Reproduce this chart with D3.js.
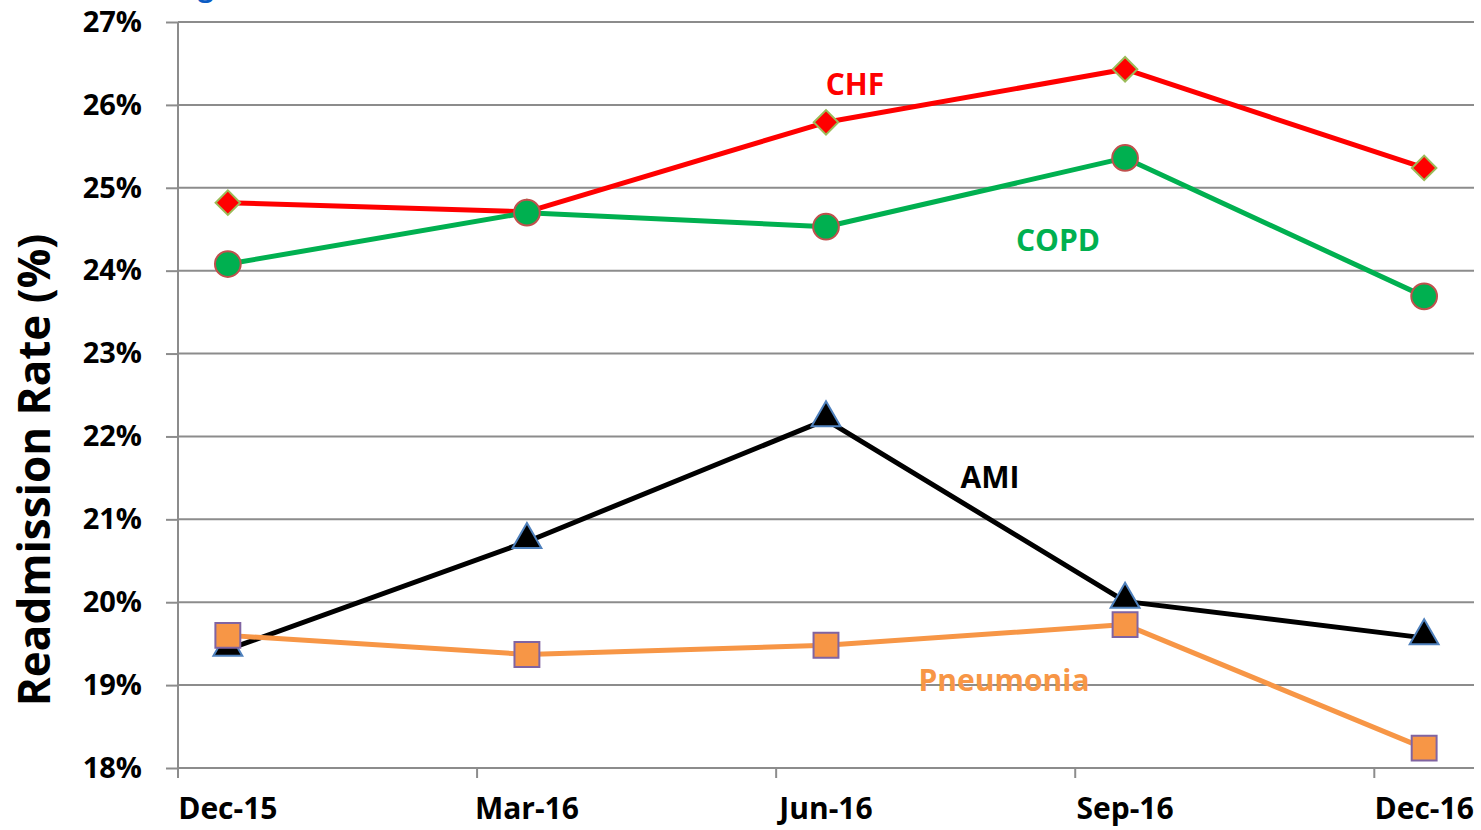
<!DOCTYPE html>
<html>
<head>
<meta charset="utf-8">
<script src="https://cdn.jsdelivr.net/npm/d3@7"></script>
<style>
    body { margin: 0; background: #fff; }
    svg { display: block; font-family: "Open Sans", Lato, sans-serif; font-weight: bold; }
</style>
</head>
<body>
<svg id="chart" width="1481" height="830"></svg>
<script>
// Quarters shown on the date axis (month index from Dec-15)
const months = [0, 3, 6, 9, 12];
const monthLabels = ['Dec-15', 'Mar-16', 'Jun-16', 'Sep-16', 'Dec-16'];

// Readmission rates (%)
const chf = [24.82, 24.71, 25.79, 26.43, 25.24];
const copd = [24.08, 24.70, 24.53, 25.36, 23.69];
const ami = [19.43, 20.73, 22.20, 20.01, 19.57];
const pneumonia = [19.60, 19.37, 19.48, 19.73, 18.24];

const yTicks = [18, 19, 20, 21, 22, 23, 24, 25, 26, 27];

/**
 * Visual configs.
 */
const margin = { top: 22, right: 7, bottom: 62, left: 178 },
    visWidth = 1481, visHeight = 830,
    width = visWidth - margin.left - margin.right,
    height = visHeight - margin.top - margin.bottom,
    gridColor = '#8c8c8c';

const series = [
    { name: 'CHF', values: chf, color: '#ff0000', marker: 'diamond', fill: '#ff0000', stroke: '#9bbb59', label: [855, 84] },
    { name: 'COPD', values: copd, color: '#00b050', marker: 'circle', fill: '#00b050', stroke: '#c0504d', label: [1058, 240] },
    { name: 'AMI', values: ami, color: '#000000', marker: 'triangle', fill: '#000000', stroke: '#4f81bd', label: [990, 477] },
    { name: 'Pneumonia', values: pneumonia, color: '#f79646', marker: 'square', fill: '#f79646', stroke: '#8064a2', label: [1004, 680] }
];

const svg = d3.select('#chart');
const g = svg.append('g').attr('transform', 'translate(' + margin.left + ',' + margin.top + ')');

// Month slots: each month is one slot, points sit in the middle of the slot
const x = d3.scaleLinear().domain([-0.5, 12.5]).range([0, width]);
const y = d3.scaleLinear().domain([18, 27]).range([height, 0]);

// Cut-off blue title at the very top
svg.append('text')
    .attr('x', 198).attr('y', -4)
    .attr('fill', '#0b5cc4')
    .style('font-size', '28px')
    .text('g');

// Y ticks
const yAxis = d3.axisLeft(y).tickValues(yTicks).tickSize(12).tickPadding(24)
    .tickFormat(d => d + '%');
g.append('g').attr('class', 'y-axis').call(yAxis)
    .call(s => s.select('.domain').remove())
    .call(s => s.selectAll('.tick line').attr('stroke', gridColor).attr('stroke-width', 2))
    .call(s => s.selectAll('.tick text').attr('fill', '#000').style('font-size', '29px')
        .style('font-family', '"Open Sans", sans-serif').style('font-weight', 'bold'));

// Horizontal gridlines
g.append('g').attr('class', 'grid')
    .selectAll('line').data(yTicks).join('line')
    .attr('x1', 0).attr('x2', width)
    .attr('y1', d => y(d)).attr('y2', d => y(d))
    .attr('stroke', gridColor).attr('stroke-width', 2);

// Vertical axis line
g.append('line')
    .attr('x1', 0).attr('x2', 0).attr('y1', 0).attr('y2', height + 10)
    .attr('stroke', gridColor).attr('stroke-width', 2);

// X axis: tick marks at start of each quarter, labels under the data points
const xg = g.append('g').attr('transform', 'translate(0,' + height + ')');
xg.selectAll('line').data(months).join('line')
    .attr('x1', d => x(d - 0.5)).attr('x2', d => x(d - 0.5))
    .attr('y1', 0).attr('y2', 10)
    .attr('stroke', gridColor).attr('stroke-width', 2);
xg.selectAll('text').data(months).join('text')
    .attr('x', d => x(d)).attr('y', 51)
    .attr('text-anchor', 'middle')
    .style('font-size', '30px')
    .text((d, i) => monthLabels[i]);

// Y axis title
svg.append('text')
    .attr('transform', 'translate(50,' + 470 + ') rotate(-90)')
    .attr('text-anchor', 'middle')
    .style('font-size', '44px')
    .text('Readmission Rate (%)');

// Lines
const line = d3.line().x((d, i) => x(months[i])).y(d => y(d));

const seriesG = g.selectAll('.series').data(series).join('g').attr('class', 'series');

seriesG.append('path')
    .attr('d', d => line(d.values))
    .attr('fill', 'none')
    .attr('stroke', d => d.color)
    .attr('stroke-width', 5)
    .attr('stroke-linejoin', 'round');

const symbolFor = {
    diamond: d3.symbol().type(d3.symbolSquare).size(300),
    circle: d3.symbol().type(d3.symbolCircle).size(520),
    triangle: d3.symbol().type(d3.symbolTriangle).size(360),
    square: d3.symbol().type(d3.symbolSquare).size(620)
};

seriesG.each(function(s) {
    d3.select(this).selectAll('.marker').data(s.values).join('path')
        .attr('class', 'marker')
        .attr('d', symbolFor[s.marker]())
        .attr('transform', (d, i) => 'translate(' + x(months[i]) + ',' + y(d) + ')' +
            (s.marker === 'diamond' ? ' rotate(45)' : '') +
            (s.marker === 'triangle' ? ' translate(0,-2)' : ''))
        .attr('fill', s.fill)
        .attr('stroke', s.stroke)
        .attr('stroke-width', 2);
});

// Series labels
svg.selectAll('.series-label').data(series).join('text')
    .attr('class', 'series-label')
    .attr('x', d => d.label[0]).attr('y', d => d.label[1] + 11)
    .attr('text-anchor', 'middle')
    .attr('fill', d => d.color)
    .style('font-size', '30px')
    .text(d => d.name);
</script>
</body>
</html>
